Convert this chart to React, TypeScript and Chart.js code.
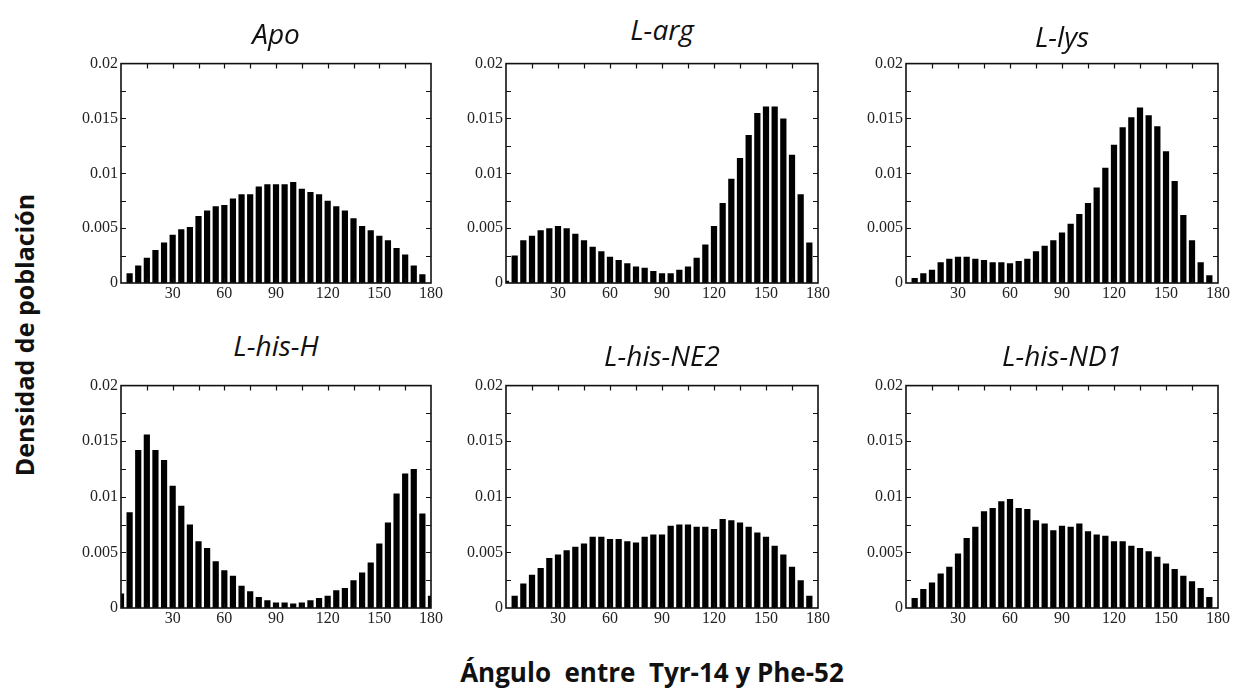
import React, { useEffect, useRef } from "react";
import { Chart, registerables } from "chart.js";

Chart.register(...registerables);

// Bin centres (degrees)
const angles = [0, 5, 10, 15, 20, 25, 30, 35, 40, 45, 50, 55, 60, 65, 70, 75, 80, 85, 90, 95, 100, 105, 110, 115, 120, 125, 130, 135, 140, 145, 150, 155, 160, 165, 170, 175, 180];

const apo = [0, 0.0009, 0.0016, 0.0023, 0.003, 0.0037, 0.0044, 0.0049, 0.0051, 0.0061, 0.0066, 0.007, 0.0071, 0.0077, 0.0081, 0.0081, 0.0088, 0.009, 0.009, 0.009, 0.0092, 0.0086, 0.0083, 0.0081, 0.0075, 0.007, 0.0066, 0.0059, 0.0052, 0.0048, 0.0043, 0.0039, 0.0032, 0.0026, 0.0016, 0.0008, 0];
const lArg = [0.0002, 0.0025, 0.0039, 0.0043, 0.0048, 0.005, 0.0052, 0.005, 0.0045, 0.0039, 0.0033, 0.0029, 0.0024, 0.0021, 0.0018, 0.0015, 0.0014, 0.0011, 0.0009, 0.0009, 0.0012, 0.0015, 0.0023, 0.0035, 0.0052, 0.0073, 0.0095, 0.0114, 0.0135, 0.0155, 0.0161, 0.0161, 0.015, 0.0117, 0.0081, 0.0037, 0];
const lLys = [0, 0.00045, 0.0009, 0.0012, 0.0019, 0.0022, 0.0024, 0.0024, 0.0022, 0.0021, 0.0019, 0.0019, 0.0018, 0.002, 0.0022, 0.0029, 0.0034, 0.0039, 0.0046, 0.0054, 0.0063, 0.0073, 0.0087, 0.0105, 0.0126, 0.0142, 0.0151, 0.016, 0.0153, 0.0143, 0.012, 0.0093, 0.0062, 0.0039, 0.0019, 0.0007, 0];
const lHisH = [0.0013, 0.0086, 0.0142, 0.0156, 0.0142, 0.0133, 0.011, 0.0092, 0.0075, 0.006, 0.0054, 0.0042, 0.0034, 0.0029, 0.002, 0.0015, 0.001, 0.0007, 0.0005, 0.0005, 0.0004, 0.0005, 0.0007, 0.0009, 0.0011, 0.0016, 0.0018, 0.0025, 0.0032, 0.0041, 0.0058, 0.0077, 0.0103, 0.0121, 0.0125, 0.0085, 0.0011];
const lHisNE2 = [0, 0.0011, 0.0022, 0.003, 0.0036, 0.0045, 0.0048, 0.0052, 0.0055, 0.0058, 0.0064, 0.0064, 0.0062, 0.0062, 0.006, 0.0059, 0.0064, 0.0066, 0.0066, 0.0074, 0.0075, 0.0075, 0.0073, 0.0073, 0.0071, 0.008, 0.0079, 0.0077, 0.0073, 0.0068, 0.0064, 0.0056, 0.0048, 0.0037, 0.0025, 0.0011, 0];
const lHisND1 = [0, 0.0009, 0.0017, 0.0023, 0.0031, 0.0037, 0.0049, 0.0063, 0.0073, 0.0087, 0.009, 0.0096, 0.0098, 0.009, 0.0089, 0.0079, 0.0076, 0.007, 0.0074, 0.0073, 0.0076, 0.0069, 0.0066, 0.0065, 0.006, 0.006, 0.0056, 0.0054, 0.0051, 0.0046, 0.004, 0.0035, 0.0029, 0.0024, 0.0018, 0.001, 0];

const titles = ["Apo", "L-arg", "L-lys", "L-his-H", "L-his-NE2", "L-his-ND1"];
const seriesList = [apo, lArg, lLys, lHisH, lHisNE2, lHisND1];

const xTickLabels = [30, 60, 90, 120, 150, 180];
const yTickLabels: Record<number, string> = { 0: "0", 50: "0.005", 100: "0.01", 150: "0.015", 200: "0.02" };

const yAxisLabel = "Densidad de población";
const xAxisLabel = "Ángulo  entre  Tyr-14 y Phe-52";

// layout (plot areas)
const cols = [
  { left: 121, width: 310 },
  { left: 506, width: 312 },
  { left: 906, width: 312 },
];
const rows = [
  { top: 63, height: 220 },
  { top: 385, height: 223 },
];
const titleYs = [33, 29, 36, 345, 355, 355];

const YW = 55;
const PT = 12;
const PR = 18;
const XH = 25;

const framePlugin = {
  id: "frameTicks",
  afterDatasetsDraw(chart: any) {
    const { ctx, chartArea: a, scales } = chart;
    const tl = 5;
    ctx.save();
    ctx.strokeStyle = "#111";
    ctx.lineWidth = 1.2;
    ctx.beginPath();
    scales.x.ticks.forEach((t: any) => {
      const px = Math.round(scales.x.getPixelForValue(t.value)) + 0.5;
      if (px <= a.left + 1 || px >= a.right - 1) return;
      ctx.moveTo(px, a.top);
      ctx.lineTo(px, a.top + tl);
      ctx.moveTo(px, a.bottom);
      ctx.lineTo(px, a.bottom - tl);
    });
    scales.y.ticks.forEach((t: any) => {
      const py = Math.round(scales.y.getPixelForValue(t.value)) + 0.5;
      if (py <= a.top + 1 || py >= a.bottom - 1) return;
      ctx.moveTo(a.left, py);
      ctx.lineTo(a.left + tl, py);
      ctx.moveTo(a.right, py);
      ctx.lineTo(a.right - tl, py);
    });
    ctx.stroke();
    ctx.lineWidth = 1.6;
    ctx.strokeRect(a.left, a.top, a.right - a.left, a.bottom - a.top);
    ctx.restore();
  },
};

function Panel({ idx }: { idx: number }) {
  const ref = useRef<HTMLCanvasElement | null>(null);
  const col = cols[idx % 3];
  const row = rows[Math.floor(idx / 3)];
  const w = col.width + YW + PR;
  const h = row.height + PT + XH;

  useEffect(() => {
    if (!ref.current) return;
    const values = seriesList[idx];
    const chart = new Chart(ref.current, {
      type: "bar",
      data: {
        datasets: [
          {
            data: angles.map((a, i) => ({ x: a, y: values[i] })),
            backgroundColor: "#000",
            borderWidth: 0,
            barPercentage: 0.72,
            categoryPercentage: 1,
          },
        ],
      },
      options: {
        responsive: false,
        animation: false,
        events: [],
        layout: { padding: { top: PT, right: PR, left: 0, bottom: 0 } },
        plugins: { legend: { display: false }, tooltip: { enabled: false }, title: { display: false } },
        scales: {
          x: {
            type: "linear",
            min: 0,
            max: 180,
            offset: false,
            grid: { display: false, drawTicks: false },
            border: { display: false },
            ticks: {
              stepSize: 15,
              autoSkip: false,
              maxRotation: 0,
              minRotation: 0,
              padding: 1,
              color: "#222",
              font: { family: "'Liberation Serif', serif", size: 16 },
              callback: (v: any) => (xTickLabels.includes(Number(v)) ? String(v) : ""),
            },
            afterFit: (s: any) => {
              s.height = XH;
            },
          },
          y: {
            type: "linear",
            min: 0,
            max: 0.02,
            grid: { display: false, drawTicks: false },
            border: { display: false },
            ticks: {
              stepSize: 0.0025,
              autoSkip: false,
              padding: 3,
              color: "#222",
              font: { family: "'Liberation Serif', serif", size: 16 },
              callback: (v: any) => yTickLabels[Math.round(Number(v) * 10000)] ?? "",
            },
            afterFit: (s: any) => {
              s.width = YW;
            },
          },
        },
      } as any,
      plugins: [framePlugin],
    });
    return () => chart.destroy();
  }, [idx]);

  return (
    <>
      <canvas
        ref={ref}
        width={w}
        height={h}
        style={{ position: "absolute", left: col.left - YW, top: row.top - PT, width: w, height: h }}
      />
      <div
        style={{
          position: "absolute",
          left: col.left + col.width / 2,
          top: titleYs[idx],
          transform: "translate(-50%, -50%)",
          fontFamily: "'Open Sans', sans-serif",
          fontStyle: "italic",
          fontSize: 28,
          lineHeight: 1,
          color: "#111",
          whiteSpace: "nowrap",
        }}
      >
        {titles[idx]}
      </div>
    </>
  );
}

export default function App() {
  return (
    <div
      style={{
        position: "absolute",
        left: 0,
        top: 0,
        width: 1237,
        height: 695,
        background: "#fff",
        overflow: "hidden",
      }}
    >
      {[0, 1, 2, 3, 4, 5].map((i) => (
        <Panel key={i} idx={i} />
      ))}
      <div
        style={{
          position: "absolute",
          left: 24,
          top: 335,
          transform: "translate(-50%, -50%) rotate(-90deg)",
          fontFamily: "'Open Sans', sans-serif",
          fontWeight: 700,
          fontSize: 25,
          lineHeight: 1,
          color: "#111",
          whiteSpace: "nowrap",
        }}
      >
        {yAxisLabel}
      </div>
      <div
        style={{
          position: "absolute",
          left: 652,
          top: 672,
          transform: "translate(-50%, -50%)",
          fontFamily: "'Open Sans', sans-serif",
          fontWeight: 700,
          fontSize: 26,
          lineHeight: 1,
          color: "#111",
          whiteSpace: "pre",
        }}
      >
        {xAxisLabel}
      </div>
    </div>
  );
}
